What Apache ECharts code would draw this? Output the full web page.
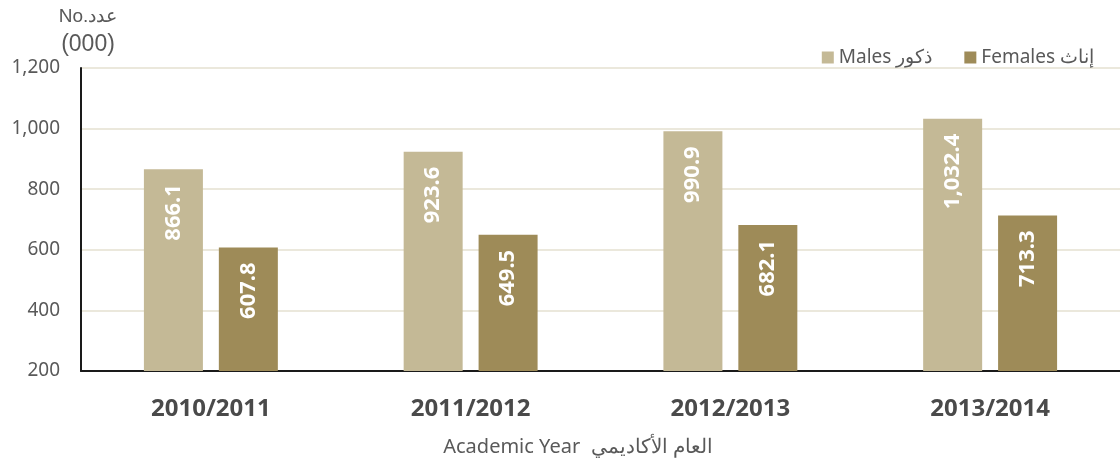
<!DOCTYPE html>
<html>
<head>
<meta charset="utf-8">
<script src="https://cdn.jsdelivr.net/npm/echarts@6/dist/echarts.min.js"></script>
<style>
  html, body { margin: 0; padding: 0; background: #fff; }
  #chart { width: 1120px; height: 469px; }
</style>
</head>
<body>
<div id="chart"></div>
<script>
// academic years
const years = ['2010/2011', '2011/2012', '2012/2013', '2013/2014'];
// students in thousands
const males = [866.1, 923.6, 990.9, 1032.4];
const females = [607.8, 649.5, 682.1, 713.3];
const seriesNames = ['Males ذكور', 'Females إناث'];

const fmt = (v) => v.toLocaleString('en-US', { minimumFractionDigits: 1, maximumFractionDigits: 1 });

let chart = echarts.init(document.getElementById('chart'));

const barLabel = {
  show: true,
  position: 'insideTop',
  rotate: 90,
  align: 'right',
  verticalAlign: 'middle',
  distance: 15,
  color: '#ffffff',
  fontFamily: 'Noto Sans',
  fontWeight: 'bold',
  fontSize: 22,
  formatter: (p) => fmt(p.value)
};

chart.setOption({
  animation: false,
  textStyle: { fontFamily: 'Noto Sans' },
  grid: { left: 81, right: 0, top: 68, bottom: 98 },
  legend: {
    right: 21,
    top: 43,
    itemWidth: 12,
    itemHeight: 12,
    itemGap: 32,
    icon: 'rect',
    textStyle: { fontSize: 19, color: '#595959', fontFamily: 'Noto Sans' },
    data: seriesNames
  },
  graphic: [
    {
      type: 'text',
      x: 88,
      y: 4,
      style: {
        text: '{a|No.عدد}\n{b|(000)}',
        align: 'center',
        fill: '#595959',
        fontFamily: 'Noto Sans',
        rich: {
          a: { fontSize: 19, lineHeight: 26, fill: '#595959', align: 'center' },
          b: { fontSize: 23, lineHeight: 30, fill: '#595959', align: 'center' }
        }
      }
    },
    {
      type: 'text',
      x: 578,
      y: 447,
      style: {
        text: 'Academic Year  العام الأكاديمي',
        align: 'center',
        verticalAlign: 'middle',
        fontSize: 20,
        fill: '#595959',
        fontFamily: 'Noto Sans'
      }
    }
  ],
  xAxis: {
    type: 'category',
    data: years,
    axisLine: { lineStyle: { color: '#1a1a1a', width: 2 } },
    axisTick: { show: false },
    axisLabel: {
      margin: 26,
      fontSize: 24,
      fontWeight: 'bold',
      color: '#4a4a4a'
    }
  },
  yAxis: {
    type: 'value',
    min: 200,
    max: 1200,
    interval: 200,
    axisLine: { show: true, lineStyle: { color: '#1a1a1a', width: 2 } },
    axisTick: { show: false },
    splitLine: { lineStyle: { color: '#ebe8dc', width: 2 } },
    axisLabel: {
      margin: 21,
      fontSize: 19,
      color: '#595959',
      formatter: (v) => v.toLocaleString('en-US')
    }
  },
  series: [
    {
      name: seriesNames[0],
      type: 'bar',
      data: males,
      barWidth: 59,
      barGap: '27%',
      itemStyle: { color: '#c4b996' },
      label: barLabel
    },
    {
      name: seriesNames[1],
      type: 'bar',
      data: females,
      barWidth: 59,
      itemStyle: { color: '#9e8b58' },
      label: barLabel
    }
  ]
});
</script>
</body>
</html>
